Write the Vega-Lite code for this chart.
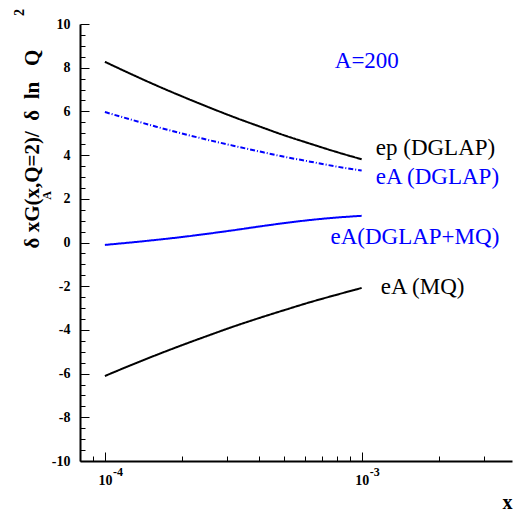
{
  "$schema": "https://vega.github.io/schema/vega-lite/v6.json",
  "width": 432,
  "height": 437,
  "autosize": {"type": "none"},
  "padding": {"left": 80, "top": 24, "right": 1, "bottom": 49},
  "background": "white",
  "config": {"view": {"stroke": null}, "font": "Liberation Serif"},
  "datasets": {
    "curves": [
      {"x": 0.0001, "y": 8.27, "s": "ep"},
      {"x": 0.00012589, "y": 7.72, "s": "ep"},
      {"x": 0.00015849, "y": 7.19, "s": "ep"},
      {"x": 0.00019953, "y": 6.69, "s": "ep"},
      {"x": 0.00025119, "y": 6.21, "s": "ep"},
      {"x": 0.00031623, "y": 5.75, "s": "ep"},
      {"x": 0.00039811, "y": 5.32, "s": "ep"},
      {"x": 0.00050119, "y": 4.90, "s": "ep"},
      {"x": 0.00063096, "y": 4.52, "s": "ep"},
      {"x": 0.00079433, "y": 4.15, "s": "ep"},
      {"x": 0.001, "y": 3.81, "s": "ep"},
      {"x": 0.0001, "y": 5.97, "s": "eAD"},
      {"x": 0.00012589, "y": 5.63, "s": "eAD"},
      {"x": 0.00015849, "y": 5.30, "s": "eAD"},
      {"x": 0.00019953, "y": 4.99, "s": "eAD"},
      {"x": 0.00025119, "y": 4.70, "s": "eAD"},
      {"x": 0.00031623, "y": 4.43, "s": "eAD"},
      {"x": 0.00039811, "y": 4.17, "s": "eAD"},
      {"x": 0.00050119, "y": 3.92, "s": "eAD"},
      {"x": 0.00063096, "y": 3.70, "s": "eAD"},
      {"x": 0.00079433, "y": 3.48, "s": "eAD"},
      {"x": 0.001, "y": 3.29, "s": "eAD"},
      {"x": 0.0001, "y": -0.11, "s": "eADMQ"},
      {"x": 0.00012589, "y": 0.0, "s": "eADMQ"},
      {"x": 0.00015849, "y": 0.12, "s": "eADMQ"},
      {"x": 0.00019953, "y": 0.25, "s": "eADMQ"},
      {"x": 0.00025119, "y": 0.40, "s": "eADMQ"},
      {"x": 0.00031623, "y": 0.56, "s": "eADMQ"},
      {"x": 0.00039811, "y": 0.73, "s": "eADMQ"},
      {"x": 0.00050119, "y": 0.89, "s": "eADMQ"},
      {"x": 0.00063096, "y": 1.03, "s": "eADMQ"},
      {"x": 0.00079433, "y": 1.14, "s": "eADMQ"},
      {"x": 0.001, "y": 1.22, "s": "eADMQ"},
      {"x": 0.0001, "y": -6.11, "s": "eAMQ"},
      {"x": 0.00012589, "y": -5.62, "s": "eAMQ"},
      {"x": 0.00015849, "y": -5.15, "s": "eAMQ"},
      {"x": 0.00019953, "y": -4.70, "s": "eAMQ"},
      {"x": 0.00025119, "y": -4.27, "s": "eAMQ"},
      {"x": 0.00031623, "y": -3.85, "s": "eAMQ"},
      {"x": 0.00039811, "y": -3.46, "s": "eAMQ"},
      {"x": 0.00050119, "y": -3.09, "s": "eAMQ"},
      {"x": 0.00063096, "y": -2.73, "s": "eAMQ"},
      {"x": 0.00079433, "y": -2.40, "s": "eAMQ"},
      {"x": 0.001, "y": -2.08, "s": "eAMQ"}
    ],
    "labels": [
      {"x": 0.0007857, "y": 8.32, "t": "A=200", "s": "hdr"},
      {"x": 0.001135, "y": 4.32, "t": "ep (DGLAP)", "s": "ep"},
      {"x": 0.001135, "y": 3.01, "t": "eA (DGLAP)", "s": "eAD"},
      {"x": 0.000756, "y": 0.27, "t": "eA(DGLAP+MQ)", "s": "eADMQ"},
      {"x": 0.001187, "y": -2.02, "t": "eA (MQ)", "s": "eAMQ"}
    ],
    "exps": [
      {"x": 0.0001, "e": "-4"},
      {"x": 0.001, "e": "-3"}
    ]
  },
  "resolve": {"axis": {"x": "independent", "y": "independent"}},
  "layer": [
    {
      "data": {"name": "curves"},
      "mark": {"type": "line", "strokeWidth": 2, "interpolate": "monotone"},
      "encoding": {
        "x": {
          "field": "x", "type": "quantitative",
          "scale": {"type": "log", "domain": [0.00008, 0.00385], "nice": false},
          "axis": {
            "orient": "bottom",
            "values": [0.00009, 0.0001, 0.0002, 0.0003, 0.0004, 0.0005, 0.0006, 0.0007, 0.0008, 0.0009, 0.001, 0.002, 0.003],
            "labelExpr": "datum.value === 0.0001 || datum.value === 0.001 ? '10' : ''",
            "tickSize": {"condition": {"test": "datum.value === 0.0001 || datum.value === 0.001", "value": -9}, "value": -5},
            "tickColor": "#000", "tickWidth": 1,
            "domainColor": "#000", "domainWidth": 2,
            "grid": false,
            "labelFont": "Liberation Serif", "labelFontWeight": "bold", "labelFontSize": 14, "labelColor": "#000",
            "labelBaseline": "middle", "labelPadding": 28, "labelDx": -6,
            "labelFlush": false, "labelOverlap": false,
            "title": "x",
            "titleFont": "Liberation Serif", "titleFontWeight": "bold", "titleFontSize": 20, "titleColor": "#000",
            "titleX": 427, "titleY": 41, "titleAlign": "center", "titleBaseline": "middle"
          }
        },
        "y": {
          "field": "y", "type": "quantitative",
          "scale": {"domain": [-10, 10], "nice": false, "zero": false},
          "axis": {
            "orient": "left",
            "values": [-10, -9.5, -9, -8.5, -8, -7.5, -7, -6.5, -6, -5.5, -5, -4.5, -4, -3.5, -3, -2.5, -2, -1.5, -1, -0.5, 0, 0.5, 1, 1.5, 2, 2.5, 3, 3.5, 4, 4.5, 5, 5.5, 6, 6.5, 7, 7.5, 8, 8.5, 9, 9.5, 10],
            "labelExpr": "datum.value % 2 === 0 ? '' + datum.value : ''",
            "tickSize": {"condition": {"test": "datum.value % 2 === 0", "value": -9}, "value": -5},
            "tickColor": "#000", "tickWidth": 1,
            "domainColor": "#000", "domainWidth": 2,
            "grid": false,
            "labelFont": "Liberation Serif", "labelFontWeight": "bold", "labelFontSize": 14, "labelColor": "#000",
            "labelPadding": 19, "labelFlush": false, "labelOverlap": false,
            "title": "δ xG(x,Q=2)/\u00a0\u00a0δ\u00a0\u00a0ln\u00a0\u00a0\u00a0Q",
            "titleFont": "Liberation Serif", "titleFontWeight": "bold", "titleFontSize": 21, "titleColor": "#000",
            "titleAngle": 270, "titleX": -48, "titleY": 224, "titleAlign": "left", "titleBaseline": "middle"
          }
        },
        "color": {
          "field": "s", "type": "nominal",
          "scale": {"domain": ["ep", "eAD", "eADMQ", "eAMQ", "hdr"], "range": ["#000000", "#0000ff", "#0000ff", "#000000", "#0000ff"]},
          "legend": null
        },
        "strokeDash": {
          "field": "s", "type": "nominal",
          "scale": {"domain": ["ep", "eAD", "eADMQ", "eAMQ"], "range": [[1, 0], [5, 2, 1, 2], [1, 0], [1, 0]]},
          "legend": null
        }
      }
    },
    {
      "data": {"name": "exps"},
      "mark": {"type": "text", "font": "Liberation Serif", "fontWeight": "bold", "fontSize": 12, "align": "center", "baseline": "middle", "dx": 13, "dy": 11, "color": "#000"},
      "encoding": {
        "x": {
          "field": "x", "type": "quantitative",
          "axis": {
            "orient": "bottom", "domain": false, "ticks": false, "labels": false, "grid": false,
            "title": "A", "titleFont": "Liberation Serif", "titleFontWeight": "bold", "titleFontSize": 12, "titleColor": "#000",
            "titleAngle": 270, "titleX": -34, "titleY": -266, "titleAlign": "center", "titleBaseline": "middle"
          }
        },
        "y": {
          "datum": -10, "type": "quantitative",
          "axis": {
            "orient": "left", "domain": false, "ticks": false, "labels": false, "grid": false,
            "title": "2", "titleFont": "Liberation Serif", "titleFontWeight": "bold", "titleFontSize": 14, "titleColor": "#000",
            "titleAngle": 270, "titleX": -61, "titleY": -12, "titleAlign": "center", "titleBaseline": "middle"
          }
        },
        "text": {"field": "e"}
      }
    },
    {
      "data": {"name": "labels"},
      "mark": {"type": "text", "font": "Liberation Serif", "fontSize": 23, "align": "left", "baseline": "middle"},
      "encoding": {
        "x": {"field": "x", "type": "quantitative", "axis": null},
        "y": {"field": "y", "type": "quantitative", "axis": null},
        "text": {"field": "t"},
        "color": {"field": "s", "type": "nominal", "legend": null}
      }
    }
  ]
}
